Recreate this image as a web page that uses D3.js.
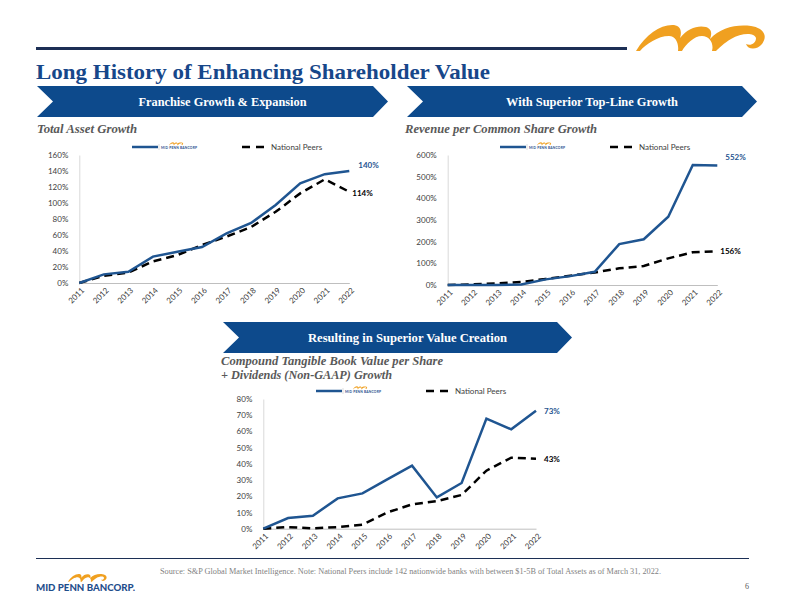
<!DOCTYPE html>
<html><head><meta charset="utf-8">
<script src="https://cdn.jsdelivr.net/npm/d3@7"></script>
<style>body{margin:0;background:#fff}svg{display:block}</style>
</head><body>
<script>
const years = ["2011","2012","2013","2014","2015","2016","2017","2018","2019","2020","2021","2022"];
const assetMPB   = [0,10.8,14,33,39,45,62,75,97.5,124.6,136,140];
const assetPeers = [0,9,13,27,35,47.5,58,70,89,112,129.6,114];
const revMPB     = [0,0,0,2,26,41,61,189,211,315,554,552];
const revPeers   = [0,3,7,14,28,43,58,77,88,123,151,156];
const tbvMPB     = [0,6.6,8,18.7,21.8,30.4,38.9,19.3,28.2,67.9,61.3,72.8];
const tbvPeers   = [0,1,0.2,1,2.5,10,15,17,20.8,35.8,43.8,43.2];
const assetTicks = [0,20,40,60,80,100,120,140,160];
const revTicks   = [0,100,200,300,400,500,600];
const tbvTicks   = [0,10,20,30,40,50,60,70,80];
const peerLabel = "National Peers";

const W=792,H=612;
const NAVY="#0d4a8c", BLUE="#1f5591", ORANGE="#f0a020", GRAY="#595959";
const svg=d3.select("body").append("svg").attr("width",W).attr("height",H);
const serif="'Liberation Serif','DejaVu Serif',serif";
const sans="Lato,'Open Sans',sans-serif";

const logoPath="M0,29 C10,12 25,2 38,3 C45,4 46,10 44,16 C52,6 62,3 70,5 C76,7 76,12 74,17 C84,6 100,2 115,4 C128,6 132,14 126,22 C121,28 112,28 110,22 C114,24 120,22 120,16 C118,10 105,11 95,17 C88,21 83,26 80,29 L76,29 C78,22 74,14 66,14 C58,14 50,22 46,29 L42,29 C43,22 40,14 33,14 C22,14 10,22 4,29 Z";

// header
svg.append("rect").attr("x",36).attr("y",47).attr("width",591).attr("height",3).attr("fill","#1c2f55");
svg.append("path").attr("d",logoPath).attr("fill",ORANGE).attr("transform","translate(636,22) scale(1.0)");
svg.append("text").attr("x",36).attr("y",79).attr("font-family",serif).attr("font-weight","bold")
  .attr("font-size",21).attr("fill","#17478a").attr("textLength",454).attr("lengthAdjust","spacingAndGlyphs")
  .text("Long History of Enhancing Shareholder Value");

function banner(x0,x1,y0,y1,txt,tw){
  const n=16, ym=(y0+y1)/2;
  svg.append("path").attr("d",`M${x0},${y0}L${x1-15},${y0}L${x1},${ym}L${x1-15},${y1}L${x0},${y1}L${x0+n},${ym}Z`).attr("fill",NAVY);
  svg.append("text").attr("x",(x0+n+x1)/2+2).attr("y",ym+4.5).attr("text-anchor","middle")
    .attr("font-family",serif).attr("font-weight","bold").attr("font-size",12.5).attr("fill","#fff")
    .attr("textLength",tw).attr("lengthAdjust","spacingAndGlyphs").text(txt);
}
banner(37,388,86,117,"Franchise Growth & Expansion",168);
banner(407,757,86,117,"With Superior Top-Line Growth",172);
banner(223,572,322,353,"Resulting in Superior Value Creation",199);

function sub(x,y,t,w){
  svg.append("text").attr("x",x).attr("y",y).attr("font-family",serif).attr("font-weight","bold").attr("font-style","italic")
   .attr("font-size",12).attr("fill",GRAY).attr("textLength",w).attr("lengthAdjust","spacingAndGlyphs").text(t);
}
sub(37,133,"Total Asset Growth",100);
sub(405,133,"Revenue per Common Share Growth",192);
sub(221,365,"Compound Tangible Book Value per Share",222);
sub(221,379,"+ Dividends (Non-GAAP) Growth",171);

function chart(cfg){
  const g=svg.append("g");
  const x=d3.scalePoint().domain(years).range([cfg.x0,cfg.x1]);
  const y=d3.scaleLinear().domain([0,d3.max(cfg.ticks)]).range([cfg.yb,cfg.yt]);
  const ya=g.append("g").attr("transform",`translate(${cfg.x0},0)`)
    .call(d3.axisLeft(y).tickValues(cfg.ticks).tickFormat(d=>d+"%").tickSize(0).tickPadding(11));
  ya.select(".domain").attr("stroke","#d9d9d9");
  ya.selectAll("text").attr("font-family",sans).attr("font-size",8).attr("fill","#404040");
  const xa=g.append("g").attr("transform",`translate(0,${cfg.yb})`)
    .call(d3.axisBottom(x).tickSize(0).tickPadding(0));
  xa.select(".domain").attr("stroke","#bfbfbf");
  xa.selectAll("text").attr("font-family",sans).attr("font-size",8).attr("fill","#404040")
    .attr("text-anchor","end").attr("transform","translate(3,6) rotate(-45)").attr("dy","0.35em").attr("dx","0");
  const line=d3.line().x((d,i)=>x(years[i])).y(d=>y(d));
  g.append("path").datum(cfg.peers).attr("d",line).attr("fill","none").attr("stroke","#000")
    .attr("stroke-width",2.5).attr("stroke-dasharray","8,5");
  g.append("path").datum(cfg.mpb).attr("d",line).attr("fill","none").attr("stroke",BLUE).attr("stroke-width",2.5);
  const lm=cfg.mpb[cfg.mpb.length-1], lp=cfg.peers[cfg.peers.length-1];
  g.append("text").attr("x",cfg.x1+cfg.lx).attr("y",y(lm)+cfg.dm).attr("font-family",sans).attr("font-weight","bold")
    .attr("font-size",8).attr("fill",BLUE).text(d3.format(".0f")(lm)+"%");
  g.append("text").attr("x",cfg.x1+cfg.lx2).attr("y",y(lp)+cfg.dp).attr("font-family",sans).attr("font-weight","bold")
    .attr("font-size",8).attr("fill","#000").text(d3.format(".0f")(lp)+"%");
  const L=cfg.leg;
  g.append("line").attr("x1",L.x).attr("x2",L.x+26).attr("y1",L.y).attr("y2",L.y).attr("stroke",BLUE).attr("stroke-width",2.5);
  g.append("line").attr("x1",L.x+27).attr("x2",L.x+27).attr("y1",L.y-3).attr("y2",L.y+3).attr("stroke","#bbb").attr("stroke-width",0.5);
  g.append("path").attr("d",logoPath).attr("fill",ORANGE).attr("transform",`translate(${L.x+37},${L.y-5}) scale(0.11)`);
  g.append("text").attr("x",L.x+29).attr("y",L.y+2).attr("font-family",sans).attr("font-weight","bold")
    .attr("font-size",3.3).attr("fill","#1f4e8c").attr("textLength",36).text("MID PENN BANCORP");
  g.append("line").attr("x1",L.x+110).attr("x2",L.x+134).attr("y1",L.y).attr("y2",L.y).attr("stroke","#000")
    .attr("stroke-width",2.5).attr("stroke-dasharray","8,6");
  g.append("text").attr("x",L.x+139).attr("y",L.y+3).attr("font-family",sans).attr("font-size",8).attr("fill","#404040").text(peerLabel);
}
chart({x0:79.3,x1:349.3,yb:283,yt:155,ticks:assetTicks,mpb:assetMPB,peers:assetPeers,
  lx:9,dm:-3,lx2:3,dp:4,leg:{x:132,y:147}});
chart({x0:447.7,x1:717.3,yb:285,yt:155,ticks:revTicks,mpb:revMPB,peers:revPeers,
  lx:8,dm:-5,lx2:3,dp:3,leg:{x:500,y:147}});
chart({x0:263.3,x1:536,yb:528.7,yt:399,ticks:tbvTicks,mpb:tbvMPB,peers:tbvPeers,
  lx:8,dm:3,lx2:8,dp:3,leg:{x:316,y:391}});

// footer
svg.append("rect").attr("x",36).attr("y",558).attr("width",713).attr("height",1).attr("fill","#1c2f55");
svg.append("text").attr("x",160).attr("y",574).attr("font-family",serif).attr("font-size",7.5).attr("fill","#7f7f7f")
  .attr("textLength",501).attr("lengthAdjust","spacingAndGlyphs")
  .text("Source: S&P Global Market Intelligence. Note: National Peers include 142 nationwide banks with between $1-5B of Total Assets as of March 31, 2022.");
svg.append("text").attr("x",749).attr("y",589).attr("text-anchor","end").attr("font-family",serif).attr("font-size",8).attr("fill","#595959").text("6");
svg.append("path").attr("d",logoPath).attr("fill",ORANGE).attr("transform","translate(68,573) scale(0.3)");
svg.append("text").attr("x",36).attr("y",591).attr("font-family",sans).attr("font-weight","900").attr("font-size",10)
  .attr("fill","#1f4e8c").attr("textLength",99).attr("lengthAdjust","spacingAndGlyphs").text("MID PENN BANCORP.");
</script>
</body></html>
